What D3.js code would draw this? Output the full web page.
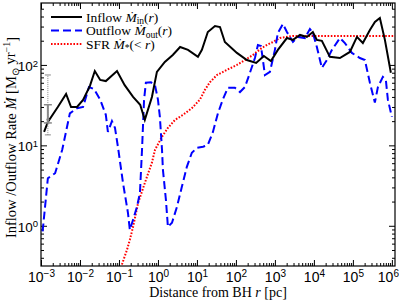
<!DOCTYPE html>
<html>
<head>
<meta charset="utf-8">
<script src="https://cdn.jsdelivr.net/npm/d3@7"></script>
<style>
body { margin: 0; background: #fff; }
svg { font-family: "Liberation Serif", "Times New Roman", serif; }
</style>
</head>
<body>
<svg id="chart" width="399" height="302"></svg>
<script>
// inflow rate, solid black
var inflowR = [0.0012, 0.0015, 0.0027, 0.0044, 0.0059, 0.0084, 0.012, 0.018, 0.024, 0.033, 0.046,
    0.089, 0.14, 0.23, 0.35, 0.46, 0.70, 0.94, 1.5, 2.4, 3.7, 5.9, 10.6, 13.4, 19, 29, 39, 52,
    106, 191, 330, 520, 790, 1190, 2030, 2900, 4400, 6600, 9400, 11900, 16000, 25700, 46400,
    83700, 127000, 180000, 273000, 367000, 492000, 662000, 942000];
var inflowM = [14.7, 19.6, 30, 43.6, 30, 30, 36.7, 55, 84, 65, 63,
    84, 56, 40, 32, 20.8, 40, 82, 109, 133, 167, 154, 126, 154, 257, 305, 296, 193,
    141, 115, 106, 129, 112, 154, 216, 205, 236, 223, 257, 205, 199, 126, 122,
    145, 223, 187, 272, 342, 384, 205, 80];

// outflow rate, blue dashed
var outflowR = [0.0011, 0.0015, 0.0023, 0.0035, 0.0055, 0.0084, 0.012, 0.017, 0.023, 0.033, 0.046,
    0.052, 0.066, 0.079, 0.094, 0.127, 0.17, 0.19, 0.23, 0.29, 0.345, 0.39, 0.44, 0.49, 0.66,
    0.84, 1.0, 1.12, 1.27, 1.34, 1.6, 1.8, 2.29, 3.07, 4.1, 5.5, 7.4, 10, 14.3, 19, 25.7, 34.5,
    46, 62, 94, 127, 170, 229, 307, 366, 438, 492, 554, 745, 1000, 1190, 1600, 2030, 2900, 3890,
    5870, 7890, 9420, 11900, 16000, 21500, 29000, 46400, 62400, 94200, 151000, 203000, 273000,
    366000, 438000, 587000, 701000, 789000, 1000000];
var outflowM = [0.85, 3.9, 4.5, 8.8, 25, 29, 30, 53, 50, 37, 24,
    14.7, 20, 16.5, 9.6, 3.4, 1.45, 0.89, 1.19, 1.72, 2.57, 8.8, 37, 60, 61,
    56, 37, 22.6, 8.8, 5.0, 2.1, 0.97, 1.09, 1.72, 3.05, 5.4, 8.1, 9.3, 9.6, 10.1, 14.7, 25,
    37, 52, 52, 46, 53, 80, 122, 177, 172, 115, 75, 82, 154, 250, 323, 257, 193, 223,
    216, 280, 250, 167, 92, 115, 154, 216, 187, 141, 122, 115, 60,
    34, 53, 71, 65, 37, 22.6];

// enclosed star formation rate, red dotted
var sfrR = [0.119, 0.16, 0.19, 0.23, 0.31, 0.46, 0.70, 0.84, 1.27, 1.8, 2.73, 4.4, 7.4, 11.9,
    16, 21.5, 32.6, 59, 106, 170, 273, 464, 624, 889, 1340, 2900, 10000, 100000, 1200000];
var sfrM = [0.33, 0.50, 0.67, 0.97, 1.93, 3.4, 6.1, 8.8, 12.8, 16.5, 20.7, 24, 29, 37,
    49, 61, 75, 87, 100, 115, 133, 163, 177, 193, 216, 229, 229, 229, 229];

// error bar at small radius
var errR = 0.0015;
var errMid = 21;
var errInner = [19, 32];
var errOuter = [13.5, 75];

var xMajor = [1e-3, 1e-2, 1e-1, 1e0, 1e1, 1e2, 1e3, 1e4, 1e5, 1e6];
var xExp = ["\u22123", "\u22122", "\u22121", "0", "1", "2", "3", "4", "5", "6"];
var yMajor = [1, 10, 100];
var yExp = ["0", "1", "2"];

var svg = d3.select("#chart");
var pLeft = 41, pRight = 395, pTop = 3, pBottom = 266;

var x = d3.scaleLog().domain([1e-3, Math.pow(10, 6.08)]).range([pLeft, pRight]);
var y = d3.scaleLog().domain([Math.pow(10, -0.5), Math.pow(10, 2.77)]).range([pBottom, pTop]);

// minor tick values inside domain
function minorTicks(scale) {
    var d = scale.domain(), out = [];
    for (var k = -4; k <= 7; k++) {
        for (var j = 2; j <= 9; j++) {
            var v = j * Math.pow(10, k);
            if (v >= d[0] && v <= d[1]) out.push(v);
        }
    }
    return out;
}

function drawAxis(axisFn, scale, transform, majors) {
    var gMin = svg.append("g").attr("transform", transform)
        .call(axisFn(scale).tickValues(minorTicks(scale)).tickSize(-3).tickFormat(""));
    var gMaj = svg.append("g").attr("transform", transform)
        .call(axisFn(scale).tickValues(majors).tickSize(-6).tickPadding(5).tickFormat(""));
    [gMin, gMaj].forEach(function(g) {
        g.select(".domain").remove();
        g.selectAll("line").attr("stroke", "#000").attr("stroke-width", 1);
    });
    return gMaj;
}

var gx = drawAxis(d3.axisBottom, x, "translate(0," + pBottom + ")", xMajor);
drawAxis(d3.axisTop, x, "translate(0," + pTop + ")", xMajor);
var gy = drawAxis(d3.axisLeft, y, "translate(" + pLeft + ",0)", yMajor);
drawAxis(d3.axisRight, y, "translate(" + pRight + ",0)", yMajor);

// power-of-ten labels
gx.selectAll(".tick text").each(function(d, i) {
    var t = d3.select(this).attr("font-size", 14).attr("fill", "#000").attr("y", 6).attr("dy", "0.71em");
    if (i === xMajor.length - 1) t.attr("x", -4);
    t.append("tspan").text("10");
    t.append("tspan").attr("dy", "-0.45em").attr("font-size", 10).text(xExp[i]);
});
gy.selectAll(".tick text").each(function(d, i) {
    var t = d3.select(this).attr("font-size", 13.5).attr("fill", "#000").attr("x", -3).attr("dy", "0.4em");
    t.append("tspan").text("10");
    t.append("tspan").attr("dy", "-0.45em").attr("font-size", 9.5).text(yExp[i]);
});

svg.append("rect")
    .attr("x", pLeft).attr("y", pTop)
    .attr("width", pRight - pLeft).attr("height", pBottom - pTop)
    .attr("fill", "none").attr("stroke", "#000").attr("stroke-width", 1.2);

svg.append("clipPath").attr("id", "plotclip").append("rect")
    .attr("x", pLeft).attr("y", pTop).attr("width", pRight - pLeft).attr("height", pBottom - pTop);

var line = d3.line()
    .x(function(d) { return x(d[0]); })
    .y(function(d) { return y(d[1]); });

var plot = svg.append("g").attr("clip-path", "url(#plotclip)");

plot.append("path")
    .datum(d3.zip(sfrR, sfrM))
    .attr("d", line)
    .attr("fill", "none").attr("stroke", "#ff0000").attr("stroke-width", 2)
    .attr("stroke-dasharray", "1.6,1.6");

plot.append("path")
    .datum(d3.zip(outflowR, outflowM))
    .attr("d", line)
    .attr("fill", "none").attr("stroke", "#0000ff").attr("stroke-width", 2)
    .attr("stroke-dasharray", "8,4");

plot.append("path")
    .datum(d3.zip(inflowR, inflowM))
    .attr("d", line)
    .attr("fill", "none").attr("stroke", "#000").attr("stroke-width", 2);

// error bar
var eb = svg.append("g").attr("stroke", "#888");
var ex = x(errR);
eb.append("line").attr("x1", ex).attr("x2", ex)
    .attr("y1", y(errOuter[0])).attr("y2", y(errOuter[1]))
    .attr("stroke-width", 1).attr("stroke-dasharray", "1,1");
errOuter.forEach(function(v) {
    eb.append("line").attr("x1", ex - 3).attr("x2", ex + 3)
        .attr("y1", y(v)).attr("y2", y(v)).attr("stroke-width", 1);
});
eb.append("line").attr("x1", ex).attr("x2", ex)
    .attr("y1", y(errInner[0])).attr("y2", y(errInner[1]))
    .attr("stroke-width", 2);
errInner.forEach(function(v) {
    eb.append("line").attr("x1", ex - 4).attr("x2", ex + 4)
        .attr("y1", y(v)).attr("y2", y(v)).attr("stroke-width", 1.5);
});
eb.append("circle").attr("cx", ex).attr("cy", y(errMid)).attr("r", 1.5)
    .attr("fill", "#888").attr("stroke", "none");

// legend
var legend = svg.append("g").attr("font-size", 13.5);
var legItems = [
    { color: "#000", dash: null, name: "Inflow ", sub: "in", arg: "(", tail: ")" },
    { color: "#0000ff", dash: "8,4", name: "Outflow ", sub: "out", arg: "(", tail: ")" },
    { color: "#ff0000", dash: "1.6,1.6", name: "SFR ", sub: "*", arg: "(< ", tail: ")" }
];
legItems.forEach(function(it, i) {
    var ly = 17 + i * 13.5;
    legend.append("line").attr("x1", 51).attr("x2", 82).attr("y1", ly).attr("y2", ly)
        .attr("stroke", it.color).attr("stroke-width", 2)
        .attr("stroke-dasharray", it.dash);
    var t = legend.append("text").attr("x", 86).attr("y", ly).attr("dy", "0.35em").attr("fill", "#000");
    t.append("tspan").text(it.name);
    t.append("tspan").attr("font-style", "italic").text("\u1E40");
    t.append("tspan").attr("font-size", 9.5).attr("dy", "0.25em").text(it.sub);
    t.append("tspan").attr("dy", "-0.18em").text(it.arg);
    t.append("tspan").attr("font-style", "italic").text("r");
    t.append("tspan").text(it.tail);
});

// axis labels
var xl = svg.append("text").attr("x", 218).attr("y", 297)
    .attr("text-anchor", "middle").attr("font-size", 14);
xl.append("tspan").text("Distance from BH ");
xl.append("tspan").attr("font-style", "italic").text("r");
xl.append("tspan").text(" [pc]");

var yl = svg.append("text")
    .attr("transform", "translate(16," + ((pTop + pBottom) / 2 + 3) + ") rotate(-90)")
    .attr("text-anchor", "middle").attr("font-size", 14.5);
yl.append("tspan").text("Inflow /Outflow Rate ");
yl.append("tspan").attr("font-style", "italic").text("\u1E40");
yl.append("tspan").text(" [M");
yl.append("tspan").attr("font-size", 10).attr("dy", "0.3em").text("\u2299");
yl.append("tspan").attr("dy", "-0.3em").text(" yr");
yl.append("tspan").attr("font-size", 10).attr("dy", "-0.45em").text("\u22121");
yl.append("tspan").attr("dy", "0.45em").text("]");
</script>
</body>
</html>
